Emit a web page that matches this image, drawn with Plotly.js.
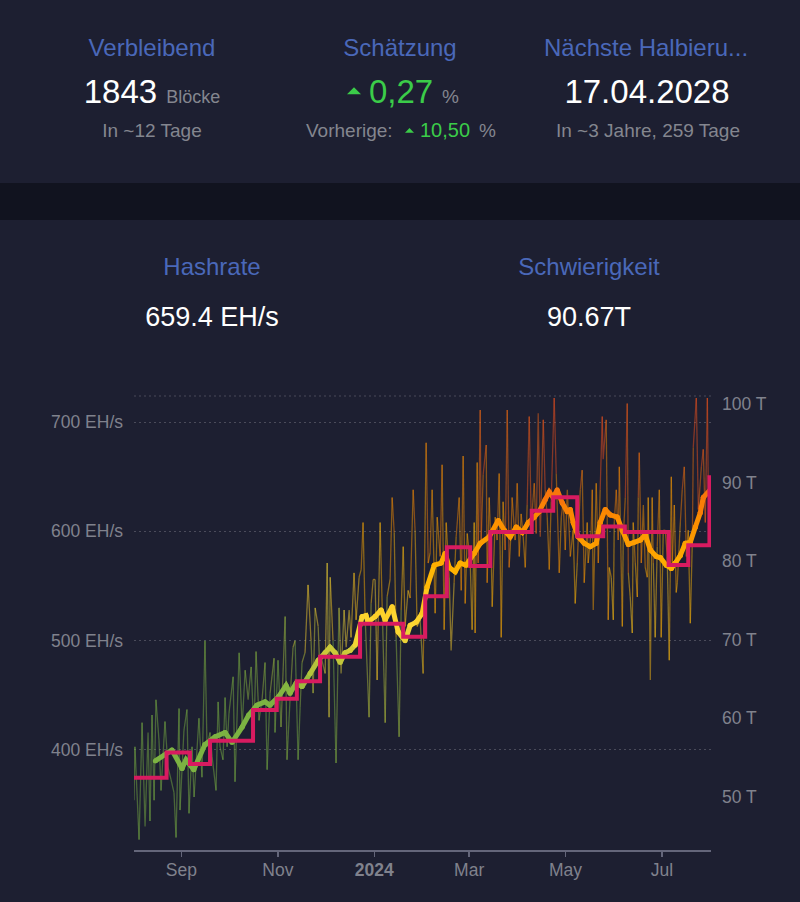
<!DOCTYPE html>
<html><head><meta charset="utf-8">
<script src="https://cdn.plot.ly/plotly-3.0.1.min.js"></script>
<style>
html,body{margin:0;padding:0;width:800px;height:902px;background:#11131f;overflow:hidden;}
#hdr{position:absolute;left:0;top:0;}
#chart{position:absolute;left:0;top:0;width:800px;height:902px;}
</style></head>
<body>
<svg id="hdr" width="800" height="902" xmlns="http://www.w3.org/2000/svg" font-family="Liberation Sans, Arial, sans-serif">
  <rect x="0" y="0" width="800" height="183" fill="#1d1f31"/>
  <rect x="0" y="183" width="800" height="37" fill="#11131f"/>
  <rect x="0" y="220" width="800" height="682" fill="#1d1f31"/>
  <text x="152" y="56" font-size="24" fill="#4a68b9" text-anchor="middle">Verbleibend</text>
  <text x="152" y="102.7" text-anchor="middle"><tspan font-size="33" fill="#ffffff">1843</tspan><tspan font-size="18" fill="#84868f" dx="9">Blöcke</tspan></text>
  <text x="152" y="136.5" font-size="19" fill="#84868f" text-anchor="middle">In ~12 Tage</text>

  <text x="400" y="56" font-size="24" fill="#4a68b9" text-anchor="middle">Schätzung</text>
  <path d="M347,94.3 L361,94.3 L354,87.3 Z" fill="#3bcc49"/>
  <text x="369" y="102.7" font-size="33" fill="#3bcc49">0,27</text>
  <text x="442" y="102.7" font-size="19" fill="#84868f">%</text>
  <text x="306" y="136.5" font-size="19" fill="#84868f">Vorherige:</text>
  <path d="M405,132.7 L414,132.7 L409.5,128 Z" fill="#3bcc49"/>
  <text x="420" y="136.5" font-size="20" fill="#3bcc49">10,50</text>
  <text x="479" y="136.5" font-size="19" fill="#84868f">%</text>

  <text x="646" y="56" font-size="24" fill="#4a68b9" text-anchor="middle">Nächste Halbieru...</text>
  <text x="647" y="102.7" font-size="33" fill="#ffffff" text-anchor="middle">17.04.2028</text>
  <text x="648" y="136.5" font-size="19" fill="#84868f" text-anchor="middle">In ~3 Jahre, 259 Tage</text>

  <text x="212" y="275" font-size="24" fill="#4a68b9" text-anchor="middle">Hashrate</text>
  <text x="212" y="326" font-size="27" fill="#ffffff" text-anchor="middle">659.4 EH/s</text>
  <text x="589" y="275" font-size="24" fill="#4a68b9" text-anchor="middle">Schwierigkeit</text>
  <text x="589" y="326" font-size="27" fill="#ffffff" text-anchor="middle">90.67T</text>
</svg>
<div id="chart"></div>
<script>
// ---- data (days since 2023-08-02) ----
const START = Date.UTC(2023, 7, 2);

const hrDays = [0,0.6,3.2,5.1,7.0,8.9,10.1,11.4,12.7,13.9,15.8,17.1,19.6,21.5,23.4,25.3,26.6,28.5,29.1,31.6,33.5,34.8,36.7,38.0,41.1,43.0,44.9,46.2,48.1,49.4,51.9,53.2,54.4,56.3,57.6,58.9,60.1,62.7,63.9,66.5,68.4,70.3,72.2,74.1,75.9,77.2,79.1,81.0,82.9,84.2,86.1,88.6,89.2,91.1,
93.0,95.6,96.8,98.7,100.6,101.9,103.8,105.1,106.3,108.2,110.1,112.0,113.3,114.6,116.5,117.7,118.4,120.9,122.2,123.4,124.1,125.9,127.8,129.7,131.0,132.9,134.2,136.1,137.3,139.2,140.5,142.4,143.7,144.9,146.2,148.7,150.0,151.3,152.5,153.8,155.7,157.0,158.9,160.1,162.0,163.3,164.6,165.8,167.7,169.0,170.3,171.5,173.4,174.7,176.6,177.8,179.1,181.0,182.9,184.8,
186.1,187.3,188.6,190.5,191.8,193.7,194.9,196.2,197.5,199.4,200.6,202.5,203.8,205.7,207.0,208.2,209.5,210.8,212.7,213.9,215.2,215.8,217.1,217.7,219.0,219.6,220.9,222.8,223.4,224.7,226.0,226.6,228.5,229.7,231.0,232.3,233.5,234.8,236.1,237.3,238.6,239.2,241.1,242.4,243.7,244.9,246.2,247.5,248.7,250.0,251.3,253.2,254.4,255.7,257.0,258.9,260.1,261.4,262.7,263.9,265.8,267.1,269.0,270.3,271.5,272.8,274.1,276.0,
277.8,279.1,280.4,282.3,283.5,284.8,286.7,287.3,289.2,289.9,290.5,292.4,293.7,294.9,296.2,296.8,298.7,300.0,300.6,301.9,303.2,303.8,305.1,306.3,307.0,308.9,309.5,310.8,312.0,312.7,313.9,315.2,315.8,317.1,318.4,319.0,319.6,320.9,322.2,323.4,324.7,325.3,326.6,327.8,328.5,329.7,331.0,332.3,333.5,334.8,336.1,337.3,338.6,339.9,340.5,341.8,343.0,343.7,345.6,346.8,348.1,349.4,350.6,351.9,353.2,353.8,355.7,357.0,358.9,360.1,361.4,362.7,363.3,364.6];

const hrValues = [354,403,318,425,330,416,335,432,354,446,409,363,426,384,373,361,320,438,345,418,437,342,403,357,429,375,500,403,416,394,363,444,403,391,448,403,434,467,371,489,421,473,446,476,416,490,427,446,480,382,452,484,416,482,
421,522,391,446,494,500,391,439,480,489,551,500,452,530,513,467,485,470,571,430,558,500,388,530,470,528,494,528,503,562,519,558,565,608,522,430,534,556,556,464,608,531,425,540,556,631,599,503,412,528,586,513,546,539,638,601,513,519,470,681,
571,580,638,525,613,577,661,510,608,558,491,553,595,631,546,669,534,598,571,510,608,507,663,571,711,592,652,679,553,631,577,531,613,592,653,503,627,583,711,567,601,631,592,644,577,616,595,567,624,705,608,644,598,708,595,702,638,613,565,627,722,653,562,613,627,583,638,577,
601,534,571,638,656,553,608,571,601,638,528,644,571,638,705,666,702,519,567,558,519,608,638,592,659,513,595,631,717,562,540,507,608,571,540,631,672,571,624,567,558,631,464,631,571,503,586,638,503,601,601,577,482,650,571,624,544,553,608,638,659,577,601,516,592,677,722,620,659,675,608,722,638,647];

const maDays = [13.5,24,30.4,32.9,37.8,44.9,51.3,57.6,62,68.4,72.6,77.8,82.9,86,91.6,96.2,98.7,102.5,106.3,111.4,116.5,120.9,124,127.2,130.4,133.5,136.7,139.9,144.3,146.8,148.1,152.5,156.3,158.9,163.3,167.1,171.5,174.7,178.5,182.3,185.4,189.9,194.3,196.8,199.4,203.2,206.3,210.1,215.2,219,224.7,230.4,234.2,238,241.8,245.6,249.4,253.2,256.3,260.1,262.7,265.2,267.7,270.9,274.1,276,277.8,281,284.8,288.6,292.4,294.9,298.1,301.3,305.7,308.9,312.7,316.5,320.3,323.4,326.6,330.4,332.9,336.7,339.9,342.4,345.6,348.7,351.9,355.1,358.2,360.1,364.6];
const maValues = [390,400,383,391,382,405,412,416,407,421,432,441,444,441,449,459,452,461,458,470,482,489,494,489,480,489,491,496,522,523,517,522,528,519,531,508,500,514,517,525,549,569,571,580,567,563,571,569,580,589,595,610,601,595,604,599,608,613,618,629,636,631,638,626,618,620,608,595,589,586,589,608,620,615,613,601,588,590,592,597,583,577,576,569,566,571,578,589,590,604,617,631,638];

const diffDays = [0,20.6,35.4,48.1,75.3,90.3,103.0,117.7,143.0,170.3,184.2,197.9,212.7,225.4,251.6,265.2,280.4,296.8,310.5,338.2,350.6,364.0,365.0];
const diffValues = [52.39,55.62,54.15,57.12,61.03,62.46,64.68,67.8,72.0,70.34,75.5,81.73,79.35,83.7,86.39,88.1,83.15,84.38,83.68,79.5,82.0,90.67,90.67];

const xTickVals = ['2023-09-01','2023-11-01','2024-01-01','2024-03-01','2024-05-01','2024-07-01'];
const xTickText = ['Sep','Nov','<b>2024</b>','Mar','May','Jul'];
const yTickVals = [400,500,600,700];
const yTickText = ['400 EH/s','500 EH/s','600 EH/s','700 EH/s'];
const y2TickVals = [50,60,70,80,90,100];
const y2TickText = ['50 T','60 T','70 T','80 T','90 T','100 T'];

// gradient (value -> colour) stops
const gradValues = [450,515,565,612,672];
const gradColors = ['#7CB342','#FDD835','#FFB300','#FB8C00','#F4511E'];

function toDate(d){ return new Date(START + d*86400000).toISOString().slice(0,19).replace('T',' '); }
function hex(h){ return [parseInt(h.slice(1,3),16),parseInt(h.slice(3,5),16),parseInt(h.slice(5,7),16)]; }
function gradColor(v, a){
  let c;
  if (v <= gradValues[0]) c = hex(gradColors[0]);
  else if (v >= gradValues[gradValues.length-1]) c = hex(gradColors[gradColors.length-1]);
  else {
    for (let i=0;i<gradValues.length-1;i++){
      if (v>=gradValues[i] && v<=gradValues[i+1]){
        const t=(v-gradValues[i])/(gradValues[i+1]-gradValues[i]);
        const c0=hex(gradColors[i]), c1=hex(gradColors[i+1]);
        c=c0.map((x,k)=>Math.round(x+(c1[k]-x)*t)); break;
      }
    }
  }
  return 'rgba('+c[0]+','+c[1]+','+c[2]+','+a+')';
}
function bandTraces(days, vals, step, width, alpha, markers){
  const dates = days.map(toDate);
  const bands = {};
  let prev = null;
  for (let i=0;i<vals.length-1;i++){
    const m=(vals[i]+vals[i+1])/2;
    const b=Math.floor(m/step);
    if (!bands[b]) bands[b]={x:[],y:[]};
    const t=bands[b];
    if (b!==prev){
      if (t.x.length){ t.x.push(null); t.y.push(null); }
      t.x.push(dates[i]); t.y.push(vals[i]);
      prev=b;
    }
    t.x.push(dates[i+1]); t.y.push(vals[i+1]);
  }
  return Object.keys(bands).map(k=>{
    const col=gradColor((+k+0.5)*step, alpha);
    const tr={type:'scatter', mode: markers?'lines+markers':'lines', x:bands[k].x, y:bands[k].y,
      line:{color:col, width:width}, hoverinfo:'skip', connectgaps:false, yaxis:'y'};
    if (markers) tr.marker={color:col, size:width, line:{width:0}};
    return tr;
  });
}

const traces = [];
traces.push(...bandTraces(hrDays, hrValues, 6, 1.3, 0.48, false));
traces.push({type:'scatter', mode:'lines', x:diffDays.map(toDate), y:diffValues, yaxis:'y2',
  line:{color:'#D81B60', width:4, shape:'hv'}, hoverinfo:'skip'});
traces.push(...bandTraces(maDays, maValues, 4, 5, 1, true));

const tickFont = {family:'Liberation Sans, Arial, sans-serif', size:17.5, color:'#80828d'};
const layout = {
  width:800, height:902,
  margin:{l:134, r:89, t:396, b:52, pad:0},
  paper_bgcolor:'rgba(0,0,0,0)', plot_bgcolor:'rgba(0,0,0,0)',
  showlegend:false,
  font:tickFont,
  xaxis:{type:'date', range:['2023-08-02','2024-08-01'], tickmode:'array', tickvals:xTickVals, ticktext:xTickText,
    showgrid:false, zeroline:false, showline:true, linecolor:'#64667a', linewidth:1.5,
    ticks:'outside', ticklen:5, tickwidth:1.5, tickcolor:'#64667a', tickfont:tickFont, ticklabelstandoff:-2, fixedrange:true},
  yaxis:{range:[308.5,723.8], tickmode:'array', tickvals:yTickVals, ticktext:yTickText,
    showgrid:true, gridcolor:'rgba(255,255,255,0.2)', griddash:'2px,3px', gridwidth:1,
    zeroline:false, showline:false, ticks:'', tickfont:tickFont, ticklabelstandoff:10, fixedrange:true},
  yaxis2:{overlaying:'y', side:'right', range:[43.2,101.0], tickmode:'array', tickvals:y2TickVals, ticktext:y2TickText,
    showgrid:false, zeroline:false, showline:false, ticks:'', tickfont:tickFont, ticklabelstandoff:10, fixedrange:true},
  shapes:[{type:'line', xref:'paper', yref:'paper', x0:0, x1:1, y0:1, y1:1,
    line:{color:'rgba(255,255,255,0.2)', width:1, dash:'2px,3px'}, layer:'below'}]
};
Plotly.newPlot('chart', traces, layout, {staticPlot:true, displayModeBar:false});
</script>
</body></html>
